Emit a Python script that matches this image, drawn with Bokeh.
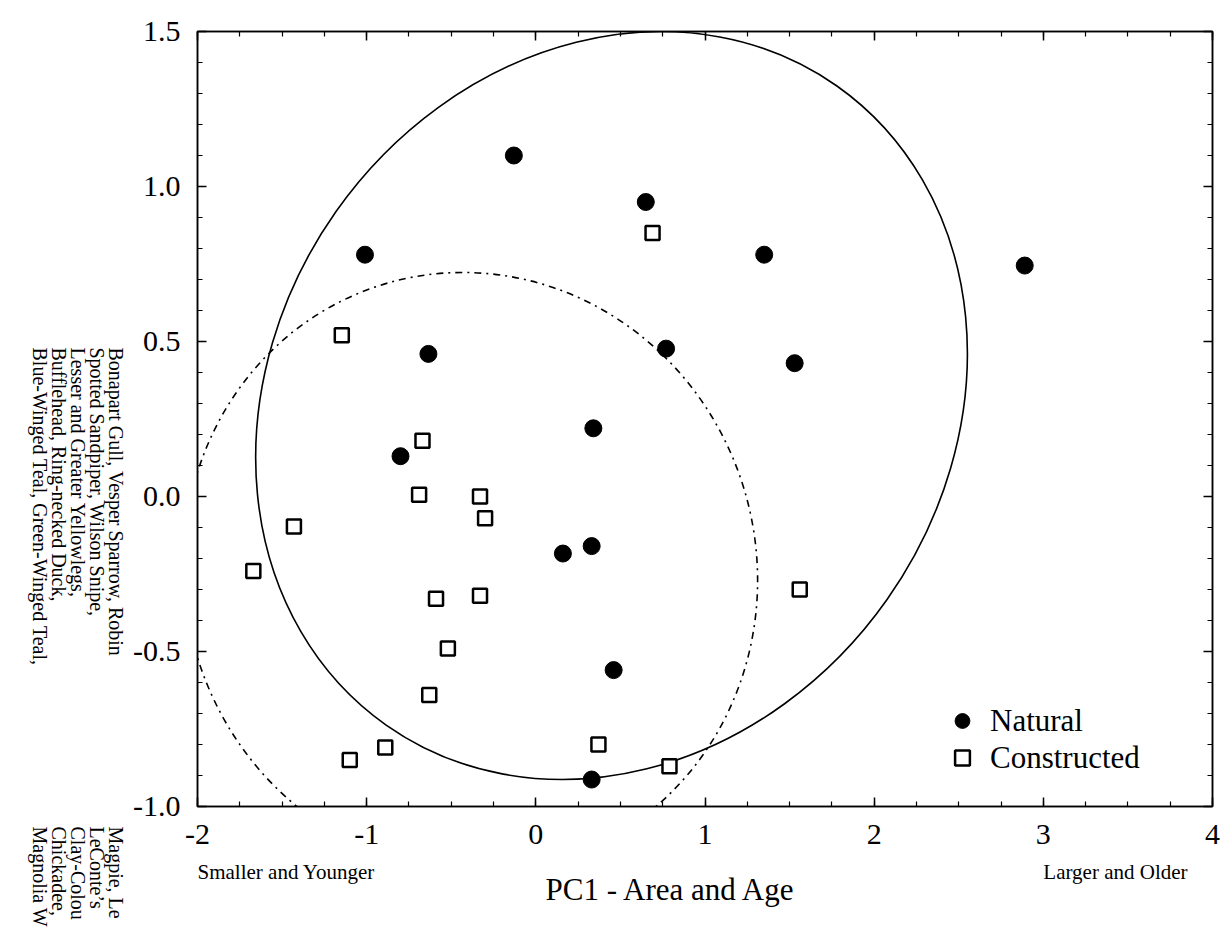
import math
from bokeh.plotting import figure
from bokeh.layouts import row, column
from bokeh.models import (Range1d, LinearAxis, SingleIntervalTicker, NumeralTickFormatter,
                          Legend, LegendItem, CustomLabelingPolicy, CustomJSTickFormatter)
from bokeh.core.properties import value
from bokeh.embed import file_html
from bokeh.resources import INLINE

# ---- data ----
natural_x = [-0.13, 0.65, -1.01, 1.35, 2.89, -0.635, 0.77, 1.53, 0.34, -0.80, 0.16, 0.33, 0.46, 0.33]
natural_y = [1.10, 0.95, 0.78, 0.78, 0.745, 0.46, 0.477, 0.43, 0.22, 0.13, -0.184, -0.16, -0.56, -0.913]
constructed_x = [0.69, -1.147, -0.67, -0.69, -0.33, -0.30, -1.43, -1.67, -0.59, -0.33, -0.52, -0.63,
                 1.56, -1.10, -0.89, 0.37, 0.79]
constructed_y = [0.85, 0.52, 0.18, 0.006, 0.0, -0.07, -0.097, -0.24, -0.33, -0.32, -0.49, -0.64,
                 -0.30, -0.85, -0.81, -0.80, -0.87]

# confidence ellipses: centre x, centre y, width, height, angle (deg)
natural_ellipse = [0.4475, 0.2935, 4.623, 2.174, 54.8]
constructed_ellipse = [-0.386, -0.245, 3.559, 1.845, -74.5]

series_labels = ["Natural", "Constructed"]
x_title = "PC1 - Area and Age"
x_notes = ["Smaller and Younger", "Larger and Older"]
x_note_at = [-2, 3]
upper_species = ["Bonapart Gull, Vesper Sparrow, Robin",
                 "Spotted Sandpiper, Wilson Snipe,",
                 "Lesser and Greater Yellowlegs,",
                 "Bufflehead, Ring-necked Duck,",
                 "Blue-Winged Teal, Green-Winged Teal,"]
lower_species = ["Magpie, Le", "LeConte\u2019s", "Clay-Colou", "Chickadee,", "Magnolia W"]

FONT = "Liberation Serif"
TOTAL_W, TOTAL_H = 1225, 930
LEFT_W = 129
MAIN_H = 857
BORDER_L = 68
BORDER_R = 13

# ---------------- left strip: rotated species lists ----------------
left = figure(width=LEFT_W, height=TOTAL_H, output_backend="svg", toolbar_location=None,
              x_range=Range1d(0, LEFT_W), y_range=Range1d(TOTAL_H, 0),
              min_border=0, x_axis_location=None, y_axis_location=None)
left.grid.visible = False
left.outline_line_color = None
col_x = [115, 96, 77, 58, 39]
left.text(x=col_x, y=[347] * 5, text=upper_species, angle=-math.pi / 2,
          text_align="left", text_baseline="alphabetic",
          text_font=value(FONT), text_font_size="20px", text_color="black")
left.text(x=col_x, y=[826] * 5, text=lower_species, angle=-math.pi / 2,
          text_align="left", text_baseline="alphabetic",
          text_font=value(FONT), text_font_size="20px", text_color="black")

# ---------------- main plot ----------------
p = figure(width=TOTAL_W - LEFT_W, height=MAIN_H, output_backend="svg", toolbar_location=None,
           x_range=Range1d(-2, 4), y_range=Range1d(-1.0, 1.5),
           min_border_left=BORDER_L, min_border_top=31, min_border_right=BORDER_R,
           min_border_bottom=51, x_axis_location=None, y_axis_location=None)
p.xgrid.visible = False
p.ygrid.visible = False
p.outline_line_color = "black"
p.outline_line_width = 1.5

hide_labels = CustomLabelingPolicy(
    code="for (let i = 0; i < indices.size; i++) { indices.unset(i) }\nreturn indices")


def style_axis(ax, fmt, show):
    ax.axis_line_color = "black"
    ax.axis_line_width = 1.5
    ax.major_tick_in = 9
    ax.major_tick_out = 0
    ax.minor_tick_in = 5
    ax.minor_tick_out = 0
    ax.major_tick_line_color = "black"
    ax.minor_tick_line_color = "black"
    ax.major_tick_line_width = 1.5
    ax.minor_tick_line_width = 1.2
    ax.major_label_text_font = FONT
    ax.major_label_text_color = "black"
    ax.major_label_text_font_size = "30px"
    if show:
        ax.formatter = NumeralTickFormatter(format=fmt)
    else:
        ax.formatter = CustomJSTickFormatter(code="return ''")
        ax.major_label_policy = hide_labels
        ax.major_label_standoff = 0


x_ticker = SingleIntervalTicker(interval=1, num_minor_ticks=4)
y_ticker = SingleIntervalTicker(interval=0.5, num_minor_ticks=5)

xb = LinearAxis(ticker=x_ticker)
style_axis(xb, "0", True)
xb.major_label_standoff = 18
p.add_layout(xb, "below")

xt = LinearAxis(ticker=x_ticker)
style_axis(xt, "0", False)
p.add_layout(xt, "above")

yl = LinearAxis(ticker=y_ticker)
style_axis(yl, "0.0", True)
yl.major_label_standoff = 17
p.add_layout(yl, "left")

yr = LinearAxis(ticker=y_ticker)
style_axis(yr, "0.0", False)
p.add_layout(yr, "right")

# ellipses
cx, cy, w, h, a = natural_ellipse
p.ellipse(x=[cx], y=[cy], width=[w], height=[h], angle=[math.radians(a)],
          fill_color=None, line_color="black", line_width=1.6)
cx, cy, w, h, a = constructed_ellipse
p.ellipse(x=[cx], y=[cy], width=[w], height=[h], angle=[math.radians(a)],
          fill_color=None, line_color="black", line_width=1.6, line_dash="7 5 2 5")

r_nat = p.scatter(natural_x, natural_y, marker="circle", size=17,
                  fill_color="black", line_color="black")
r_con = p.scatter(constructed_x, constructed_y, marker="square", size=14,
                  fill_color="white", line_color="black", line_width=2.5)

legend = Legend(items=[LegendItem(label=series_labels[0], renderers=[r_nat]),
                       LegendItem(label=series_labels[1], renderers=[r_con])],
                location=(744, 30), orientation="vertical",
                glyph_width=42, glyph_height=37, label_height=37, spacing=0,
                padding=0, margin=0, label_standoff=7,
                label_text_font=FONT, label_text_font_size="31px", label_text_color="black",
                border_line_color=None, background_fill_alpha=0)
p.add_layout(legend, "center")

# ---------------- bottom strip: axis notes and title ----------------
strip_h = TOTAL_H - MAIN_H
bottom = figure(width=TOTAL_W - LEFT_W, height=strip_h, output_backend="svg",
                toolbar_location=None, x_range=p.x_range, y_range=Range1d(strip_h, 0),
                min_border_left=BORDER_L, min_border_right=BORDER_R,
                min_border_top=0, min_border_bottom=0,
                x_axis_location=None, y_axis_location=None)
bottom.grid.visible = False
bottom.outline_line_color = None
bottom.text(x=x_note_at, y=[871 - MAIN_H] * 2, text=x_notes, text_align="left",
            text_baseline="alphabetic", text_font=value(FONT), text_font_size="21px",
            text_color="black")
bottom.text(x=[0.80], y=[889 - MAIN_H], text=[x_title], text_align="center",
            text_baseline="alphabetic", text_font=value(FONT), text_font_size="31px",
            text_color="black")

layout = row(left, column(p, bottom, spacing=0), spacing=0)
open("out.html", "w").write(file_html(layout, INLINE))
